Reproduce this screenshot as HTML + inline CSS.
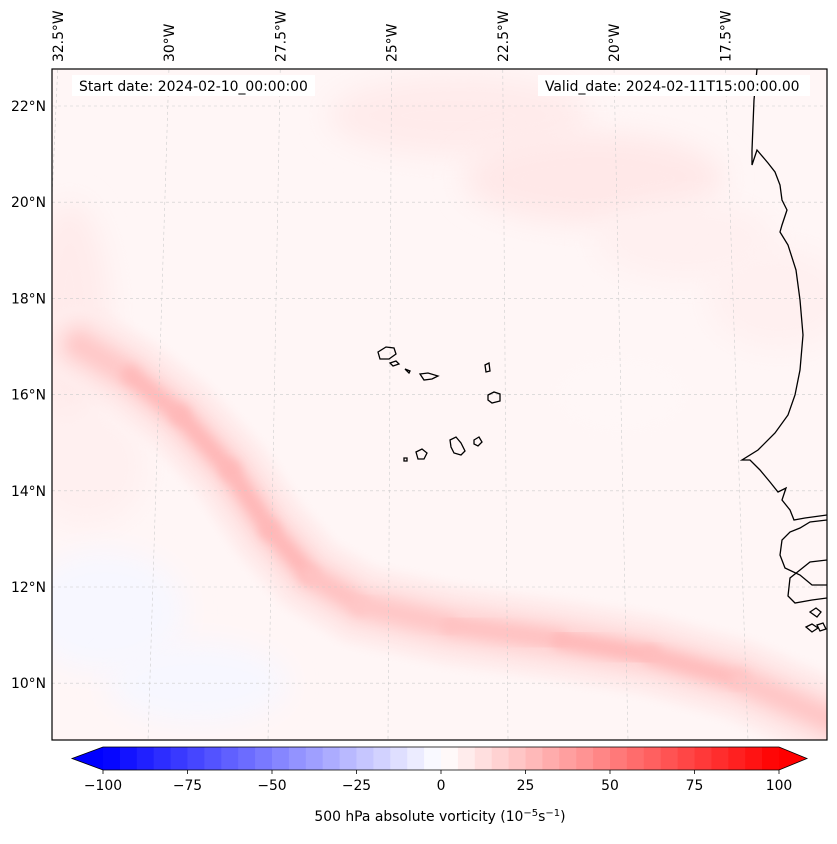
<!DOCTYPE html>
<html><head><meta charset="utf-8"><style>
body{margin:0;background:#fff;font-family:"Liberation Sans","DejaVu Sans",sans-serif;}
svg text{font-family:"DejaVu Sans","Liberation Sans",sans-serif;font-size:13.9px;fill:#000;}
</style></head><body>
<svg id="fig" width="837" height="839" viewBox="0 0 837 839">
<defs>
<clipPath id="mapclip"><rect x="52" y="69" width="775" height="671"/></clipPath>
<filter id="blur14" x="-50%" y="-50%" width="200%" height="200%" filterUnits="objectBoundingBox"><feGaussianBlur stdDeviation="14"/></filter>
<filter id="blur5" x="-50%" y="-50%" width="200%" height="200%"><feGaussianBlur stdDeviation="5"/></filter>
</defs>
<g id="map" clip-path="url(#mapclip)">
<rect x="52" y="69" width="775" height="671" fill="#fff6f6"/>
<g id="field"></g>
<g id="grid"></g>
<g fill="none" stroke="#000" stroke-width="1.3">
<path d="M757,69 L754,100 L752,150 L752,165 L757,150 L768,163 L775,172 L780,185 L782,200 L787,210 L782,225 L780,232 L788,245 L796,270 L800,300 L803,335 L800,370 L795,395 L788,415 L775,433 L758,450 L742,460 L750,460 L760,470 L770,482 L778,492 L786,488 L782,500 L790,510 L794,520 L805,518 L827,515"/>
<path d="M827,560 L810,562 L800,570 L790,578 L788,596 L795,603 L812,600 L827,598"/>
<path d="M827,520 L810,522 L800,528 L790,532 L782,540 L780,555 L785,568 L800,575 L812,585 L827,585"/>
<path d="M810,612 l6,-4 l5,4 l-4,5 z M806,627 l6,-3 l6,4 l-6,4 z M817,625 l6,-2 l3,6 l-6,2 z"/>
</g>
<g fill="none" stroke="#000" stroke-width="1.3">
<path d="M378,352 l8,-5 l8,1 l2,6 l-7,5 l-9,0 z"/>
<path d="M390,363 l6,-2 l3,3 l-6,2 z"/>
<path d="M405,369 l5,2 l-1,2 z"/>
<path d="M420,374 l8,-1 l10,3 l-6,3 l-8,1 z"/>
<path d="M485,365 l4,-2 l1,8 l-4,1 z"/>
<path d="M488,395 l6,-3 l6,2 l0,7 l-8,2 l-4,-3 z"/>
<path d="M450,440 l6,-3 l5,6 l4,8 l-4,4 l-7,-2 l-3,-6 z"/>
<path d="M474,440 l5,-3 l3,5 l-4,4 l-4,-2 z"/>
<path d="M416,452 l6,-3 l5,4 l-3,6 l-6,0 z"/>
<path d="M404,458 l3,0 l0,3 l-3,0 z"/>
</g>
</g>
<rect x="52" y="69" width="775" height="671" fill="none" stroke="#000" stroke-width="1.2"/>
<rect x="72" y="75" width="243" height="21" fill="#fff"/>
<text x="79" y="91">Start date: 2024-02-10_00:00:00</text>
<rect x="538" y="75" width="272" height="21" fill="#fff"/>
<text x="545" y="91">Valid_date: 2024-02-11T15:00:00.00</text>
<g id="latlabels"></g>
<g id="lonlabels"></g>
<g id="cbar"></g>
<text x="440" y="821" text-anchor="middle">500 hPa absolute vorticity (10<tspan dy="-5" font-size="10">−5</tspan><tspan dy="5">s</tspan><tspan dy="-5" font-size="10">−1</tspan><tspan dy="5">)</tspan></text>
</svg>
<script>
const latTicks=[22,20,18,16,14,12,10];
const lonTicks=[-32.5,-30,-27.5,-25,-22.5,-20,-17.5];
const cbarTicks=[-100,-75,-50,-25,0,25,50,75,100];
const cbarLevels=[-100,-95,-90,-85,-80,-75,-70,-65,-60,-55,-50,-45,-40,-35,-30,-25,-20,-15,-10,-5,0,5,10,15,20,25,30,35,40,45,50,55,60,65,70,75,80,85,90,95,100];
// main vorticity band centerline (lon, lat, peak value)
const bandLon=[-31.75,-30.64,-29.53,-28.42,-27.54,-26.68,-25.61,-23.70,-21.39,-19.50,-17.63,-15.77];
const bandLat=[17.03,16.41,15.58,14.43,13.19,12.25,11.63,11.21,10.90,10.59,10.07,9.24];
const bandVal=[18,24,30,26,30,26,22,22,26,28,24,20];
// secondary patches (lon, lat, value)
const patchLon=[-23.5,-20.5,-18.5,-16.5,-32,-31.5,-20,-31,-29];
const patchLat=[21.8,20.5,19.2,18.0,17.5,14.5,16.0,11.5,10.0];
const patchVal=[8,9,6,6,8,6,3,-3,-3];
const patchRx=[130,130,90,70,40,60,70,80,90];
const patchRy=[40,45,40,50,120,60,40,60,40];
const SVGNS="http://www.w3.org/2000/svg";
function yOf(lat){return 106+(22-lat)*48.1;}
function sOf(lat){return 44.5+(22.8-lat)*0.25;}
function xOf(lon,lat){return 436+(lon+24)*sOf(lat);}
function bwr(v){let t=Math.max(-1,Math.min(1,v/100));let r,g,b;
 if(t<0){r=255*(1+t);g=255*(1+t);b=255;}else{r=255;g=255*(1-t);b=255*(1-t);}
 return `rgb(${Math.round(r)},${Math.round(g)},${Math.round(b)})`;}
function mk(tag,attrs,parent){const e=document.createElementNS(SVGNS,tag);for(const k in attrs)e.setAttribute(k,attrs[k]);parent.appendChild(e);return e;}
const field=document.getElementById('field');
for(let i=0;i<patchLon.length;i++){
 const e=mk('ellipse',{cx:xOf(patchLon[i],patchLat[i]),cy:yOf(patchLat[i]),rx:patchRx[i],ry:patchRy[i],fill:bwr(patchVal[i]),filter:'url(#blur14)'},field);
 
 
}
function bandD(){let d='';for(let i=0;i<bandLon.length;i++){d+=(i?'L':'M')+xOf(bandLon[i],bandLat[i]).toFixed(1)+','+yOf(bandLat[i]).toFixed(1);}return d;}
const meanVal=bandVal.reduce((a,b)=>a+b,0)/bandVal.length;
[[80,0.3],[55,0.45],[35,0.65]].forEach(([w,vf])=>{
 const p=mk('path',{d:bandD(),fill:'none',stroke:bwr(meanVal*vf),'stroke-width':w,'stroke-linecap':'round','stroke-linejoin':'round',filter:'url(#blur5)'},field);
 
 
});
for(let i=0;i<bandLon.length-1;i++){
 const v=(bandVal[i]+bandVal[i+1])/2;
 const ln=mk('line',{x1:xOf(bandLon[i],bandLat[i]),y1:yOf(bandLat[i]),x2:xOf(bandLon[i+1],bandLat[i+1]),y2:yOf(bandLat[i+1]),stroke:bwr(v),'stroke-width':18,'stroke-linecap':'round',filter:'url(#blur5)'},field);
 
 
}
const grid=document.getElementById('grid');
latTicks.concat([8,24]).forEach(lat=>{
 const l=mk('line',{x1:52,x2:827,y1:yOf(lat),y2:yOf(lat),stroke:'#ccc','stroke-width':0.6,'stroke-dasharray':'3,3'},grid);
 
 
});
lonTicks.concat([-35,-15,-12.5]).forEach(lon=>{
 const l=mk('line',{x1:xOf(lon,23),y1:yOf(23),x2:xOf(lon,8.7),y2:yOf(8.7),stroke:'#ccc','stroke-width':0.6,'stroke-dasharray':'3,3'},grid);
 
 
});
const latG=document.getElementById('latlabels');
latTicks.forEach(lat=>{
 const t=mk('text',{x:46,y:yOf(lat)+5,'text-anchor':'end'},latG);t.textContent=lat+'°N';
 
 
});
const lonG=document.getElementById('lonlabels');
lonTicks.forEach(lon=>{
 const x=xOf(lon,22.8)+5;
 const t=mk('text',{x:x,y:62,transform:`rotate(-90 ${x} 62)`},lonG);t.textContent=Math.abs(lon)+'°W';
 
 
});
const cb=document.getElementById('cbar');
const cx0=103,cx1=779,cy0=747,cy1=770;
function cbX(v){return cx0+(v+100)/200*(cx1-cx0);}
for(let i=0;i<cbarLevels.length-1;i++){
 const r=mk('rect',{x:cbX(cbarLevels[i]),y:cy0,width:cbX(cbarLevels[i+1])-cbX(cbarLevels[i])+0.5,height:cy1-cy0,fill:bwr((cbarLevels[i]+cbarLevels[i+1])/2)},cb);
 
 
}
const lt=mk('polygon',{points:`${cx0},${cy0} ${cx0},${cy1} 72,${(cy0+cy1)/2}`,fill:bwr(-100)},cb);


const rt=mk('polygon',{points:`${cx1},${cy0} ${cx1},${cy1} 807,${(cy0+cy1)/2}`,fill:bwr(100)},cb);


const ol=mk('polygon',{points:`72,${(cy0+cy1)/2} ${cx0},${cy0} ${cx1},${cy0} 807,${(cy0+cy1)/2} ${cx1},${cy1} ${cx0},${cy1}`,fill:'none',stroke:'#000','stroke-width':0.8},cb);


cbarTicks.forEach(v=>{
 const tk=mk('line',{x1:cbX(v),x2:cbX(v),y1:cy1,y2:cy1+4,stroke:'#000','stroke-width':0.8},cb);
 
 
 const t=mk('text',{x:cbX(v),y:cy1+20,'text-anchor':'middle'},cb);t.textContent=(v<0?'−':'')+Math.abs(v);
 
 
});
</script>
</body></html>
